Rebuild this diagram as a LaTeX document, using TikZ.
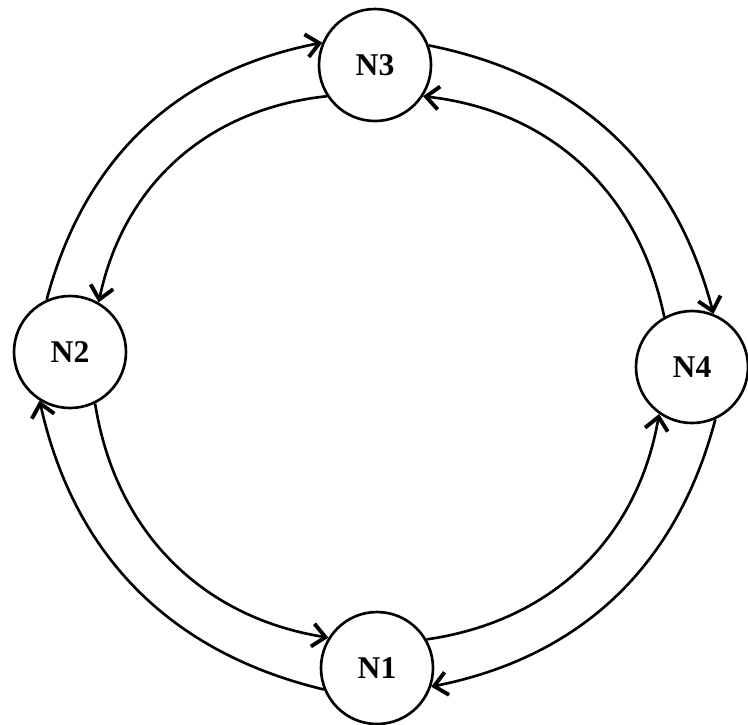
\documentclass[tikz,border=0pt]{standalone}
\usepackage{fontspec}
\setmainfont{Liberation Serif}
\usetikzlibrary{arrows.meta,positioning}

\begin{document}
\begin{tikzpicture}[
  netnode/.style={
    circle, draw=black, line width=1.5pt,
    fill=white, inner sep=0pt,
    minimum size=2.24cm,
    font=\fontsize{18}{20}\selectfont\bfseries
  },
  arr/.style={-{Straight Barb[length=2.6mm,width=4.6mm,line width=2.2pt]}, line width=1.5pt, black}
]
\useasboundingbox (0,0) rectangle (14.96,-14.48);

%=== NODES ===
\node[netnode] (n3) at ( 7.50, -1.30) {N3};
\node[netnode] (n2) at ( 1.40, -7.04) {N2};
\node[netnode] (n4) at (13.84, -7.34) {N4};
\node[netnode] (n1) at ( 7.54,-13.36) {N1};

%=== OUTER RING (clockwise) ===
\draw[arr] (n2.114) to[bend left=32] (n3.157);
\draw[arr] (n3.20)  to[bend left=32] (n4.68);
\draw[arr] (n4.294) to[bend left=32] (n1.341);
\draw[arr] (n1.202) to[bend left=32] (n2.238);

%=== INNER RING (counter-clockwise) ===
\draw[arr] (n3.213) to[bend right=36] (n2.60);
\draw[arr] (n2.296) to[bend right=36] (n1.148);
\draw[arr] (n1.30)  to[bend right=36] (n4.235);
\draw[arr] (n4.119) to[bend right=36] (n3.327);

\end{tikzpicture}
\end{document}
